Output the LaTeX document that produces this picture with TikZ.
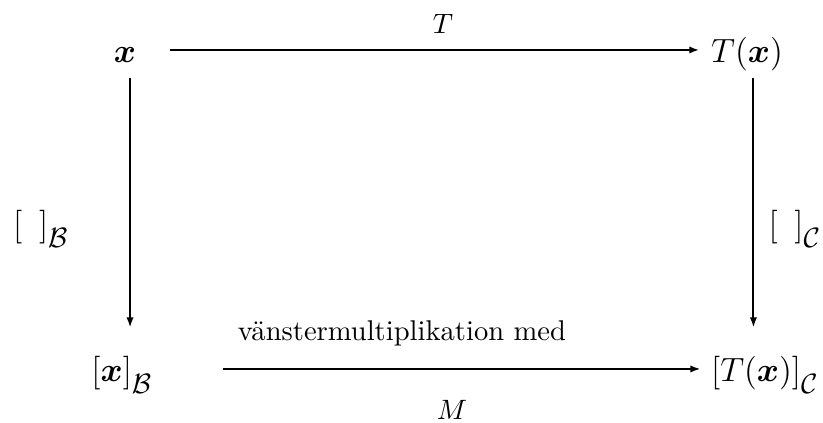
\documentclass[tikz,border=0pt]{standalone}
\usepackage{amsmath,amssymb}
\usetikzlibrary{arrows.meta}
\newcommand{\lowsub}[3]{\raisebox{#1}{#2$\mathcal{#3}$}}
\begin{document}
\begin{tikzpicture}[x=0.357pt,y=-0.357pt,
 mnode/.style={inner sep=0pt, anchor=base, font=\large, text height=11pt, text depth=2.4pt},
 lbl/.style={inner sep=0pt, anchor=base},
 side/.style={inner sep=0pt, anchor=base, font=\large},
 arr/.style={line width=0.7pt, -{Latex[length=3.6pt,width=2.6pt]}}]
\useasboundingbox (0,0) rectangle (823,422);
% main nodes
\node[mnode] (x) at (125,62) {$\boldsymbol{x}$};
\node[mnode] (Tx) at (747,62) {$T(\boldsymbol{x})$};
\node[mnode] (xB) at (122,381) {$[\boldsymbol{x}]_{\lowsub{-2.6pt}{\normalsize}{B}}$};
\node[mnode] (TxC) at (765,381) {$[T(\boldsymbol{x})]_{\lowsub{-2.6pt}{\normalsize}{C}}$};
% labels
\node[lbl] (lT) at (443,33) {$T$};
\node[lbl,font=\fontsize{10.2}{12}\selectfont] (lV) at (402,340) {vänstermultiplikation med};
\node[lbl] (lM) at (452,419) {$M$};
\node[side] (lB) at (41,235) {$[\hspace{6pt}]_{\lowsub{-2.6pt}{\normalsize}{B}}$};
\node[side] (lC) at (795,235) {$[\hspace{6pt}]_{\lowsub{-2.6pt}{\normalsize}{C}}$};
% arrows
\draw[arr, shorten <=11.8pt, shorten >=4pt] (x.east) -- (Tx.west);
\draw[arr, shorten <=25pt, shorten >=3.6pt] (xB.east) -- (TxC.west);
\draw[arr, shorten <=3pt, shorten >=7.9pt] ([xshift=1.8pt]x.south) -- ([xshift=1.8pt]x.south |- xB.north);
\draw[arr, shorten <=3pt, shorten >=7.9pt] ([xshift=2.3pt]Tx.south) -- ([xshift=2.3pt]Tx.south |- TxC.north);
\end{tikzpicture}
\end{document}
